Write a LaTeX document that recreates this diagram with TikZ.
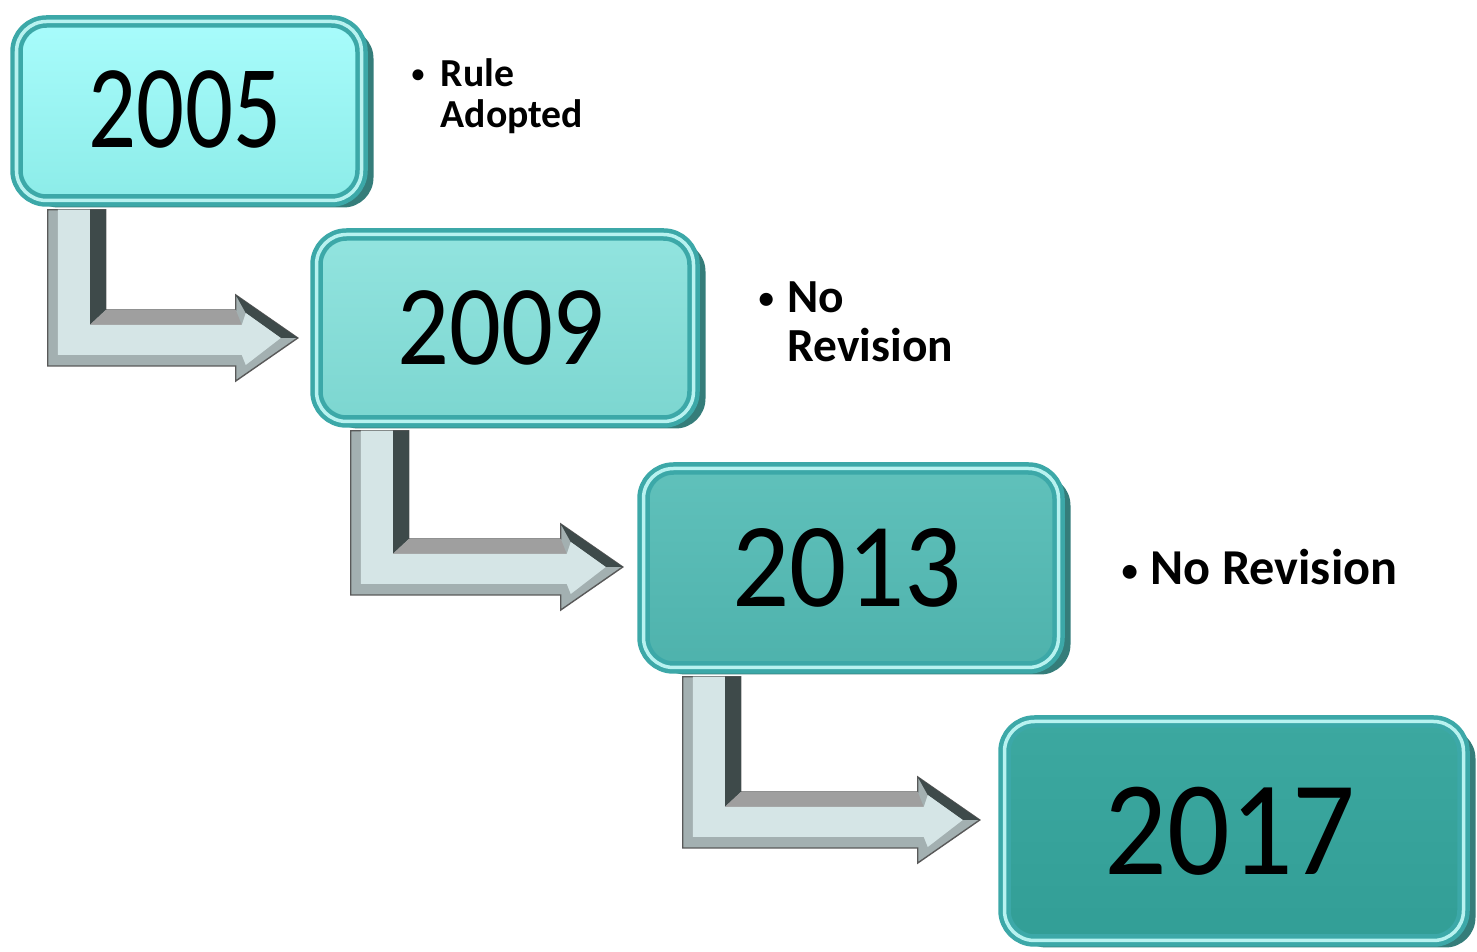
\documentclass[tikz,border=0pt]{standalone}
\usepackage{fontspec}
\setmainfont{Carlito}
\usepackage{graphicx}
\usetikzlibrary{calc,shadows}

\definecolor{rimteal}{HTML}{3CA8A8}
\definecolor{rimlight}{HTML}{B8F2F0}
\definecolor{deepteal}{HTML}{1F6F6C}
\definecolor{silverface}{HTML}{D5E5E6}
\definecolor{silveredge}{HTML}{A3B0B1}
\definecolor{silverdark}{HTML}{3E4A4A}

% small bullet in front of a note
\newcommand{\notebullet}{\makebox[0.29cm][l]{\raisebox{0.04cm}{\scalebox{0.65}{\textbullet}}}}

% bent arrow: #1 top left of the shaft, #2 the tip
\newcommand{\bentarrow}[2]{%
  \path let \p1=(#1), \p2=(#2) in
    coordinate (k1) at (\x1,\y1)
    coordinate (k2) at (\x1+0.58cm,\y1)
    coordinate (k3) at (\x1+0.58cm,\y2+0.28cm)
    coordinate (k4) at (\x2-0.62cm,\y2+0.28cm)
    coordinate (k5) at (\x2-0.62cm,\y2+0.43cm)
    coordinate (k6) at (\x2,\y2)
    coordinate (k7) at (\x2-0.62cm,\y2-0.43cm)
    coordinate (k8) at (\x2-0.62cm,\y2-0.28cm)
    coordinate (k9) at (\x1,\y2-0.28cm)
    coordinate (f1) at (\x1+0.1cm,\y1)
    coordinate (f2) at (\x1+0.42cm,\y1)
    coordinate (f3) at (\x1+0.42cm,\y2+0.13cm)
    coordinate (f4) at (\x2-0.56cm,\y2+0.13cm)
    coordinate (f5) at (\x2-0.52cm,\y2+0.25cm)
    coordinate (f6) at (\x2-0.17cm,\y2)
    coordinate (f7) at (\x2-0.52cm,\y2-0.27cm)
    coordinate (f8) at (\x2-0.56cm,\y2-0.17cm)
    coordinate (f9) at (\x1+0.1cm,\y2-0.17cm);
  \filldraw[fill=silveredge, draw=gray!70!black, line width=0.4pt]
    (k1) -- (k2) -- (k3) -- (k4) -- (k5) -- (k6) -- (k7) -- (k8) -- (k9) -- cycle;
  \fill[silverdark] (k2) -- (k3) -- (f3) -- (f2) -- cycle;
  \fill[silverdark] (k5) -- (k6) -- (f6) -- (f5) -- cycle;
  \fill[gray!75] (k3) -- (k4) -- (f4) -- (f3) -- cycle;
  \fill[silverface] (f1) -- (f2) -- (f3) -- (f4) -- (f5) -- (f6) -- (f7) -- (f8) -- (f9) -- cycle;
}

\begin{document}
\begin{tikzpicture}[
    yearbox/.style={draw=rimteal, double=rimlight, double distance=0.035cm, line width=0.045cm,
      rounded corners=0.3cm, inner sep=0pt,
      drop shadow={shadow xshift=0.12cm, shadow yshift=-0.07cm, fill=deepteal, opacity=0.9}},
    note/.style={anchor=base west, align=left, inner sep=0pt}
]
    \useasboundingbox (0, 0) rectangle (14.77, 9.52);

    \node[yearbox, top color={rgb,255:red,168;green,252;blue,252}, bottom color={rgb,255:red,140;green,236;blue,232},
      minimum width=3.45cm, minimum height=1.79cm, font=\fontsize{33.7}{40}\selectfont] (2005) at (1.89, 8.41) {\raisebox{0.04cm}{\scalebox{0.8}[1]{2005}}\hspace*{0.08cm}};
    \node[note, font=\bfseries\fontsize{11.3}{11.7}\selectfont] (2005label) at (4.11, 8.24)
      {\notebullet Rule\\\phantom{\notebullet}Adopted};

    \node[yearbox, top color={rgb,255:red,146;green,228;blue,223}, bottom color={rgb,255:red,124;green,214;blue,208},
      minimum width=3.77cm, minimum height=1.87cm, font=\fontsize{32.4}{40}\selectfont] (2009) at (5.05, 6.24) {\scalebox{0.9}[1]{2009}\hspace*{0.08cm}};
    \node[note, font=\bfseries\fontsize{13.5}{14.2}\selectfont] (2009label) at (7.58, 5.90)
      {\notebullet No\\\phantom{\notebullet}Revision};

    \node[yearbox, top color={rgb,255:red,96;green,193;blue,187}, bottom color={rgb,255:red,78;green,178;blue,172},
      minimum width=4.15cm, minimum height=1.99cm, font=\fontsize{34.2}{40}\selectfont] (2013) at (8.51, 3.84) {\scalebox{0.94}[1]{2013}\hspace*{0.08cm}};
    \node[note, font=\bfseries\fontsize{14.3}{16}\selectfont] (2013label) at (11.21, 3.67)
      {\notebullet No Revision};

    \node[yearbox, top color={rgb,255:red,60;green,168;blue,160}, bottom color={rgb,255:red,50;green,158;blue,150},
      minimum width=4.59cm, minimum height=2.19cm, font=\fontsize{38.3}{44}\selectfont] (2017) at (12.34, 1.21) {\scalebox{0.92}[1]{2017}\hspace*{0.08cm}};

    % 2005 to 2009
    \coordinate (a1top) at ($(2005.south west)+(0.335,-0.07)$);
    \coordinate (a1tip) at ($(2009.west)+(-0.165,-0.1)$);
    \bentarrow{a1top}{a1tip}
    % 2009 to 2013
    \coordinate (a2top) at ($(2009.south west)+(0.365,-0.07)$);
    \coordinate (a2tip) at ($(2013.west)+(-0.185,0.01)$);
    \bentarrow{a2top}{a2tip}
    % 2013 to 2017
    \coordinate (a3top) at ($(2013.south west)+(0.415,-0.07)$);
    \coordinate (a3tip) at ($(2017.west)+(-0.225,0.11)$);
    \bentarrow{a3top}{a3tip}
\end{tikzpicture}
\end{document}
